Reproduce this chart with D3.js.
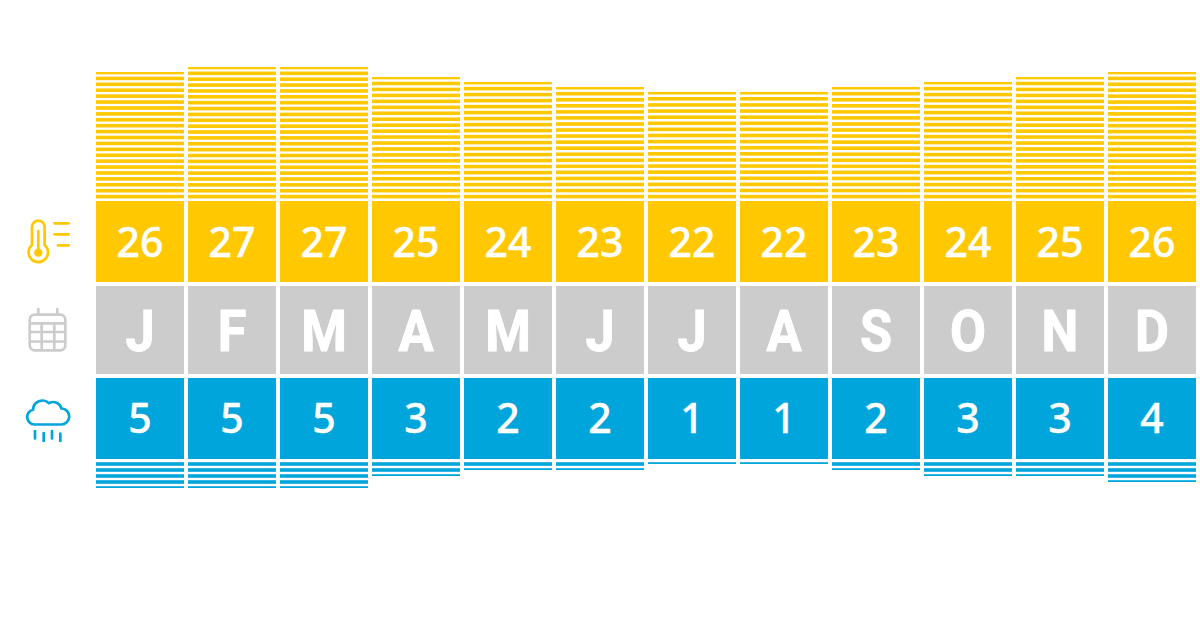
<!DOCTYPE html>
<html><head><meta charset="utf-8">
<script src="https://cdn.jsdelivr.net/npm/d3@7"></script>
<style>html,body{margin:0;padding:0;background:#fff}svg{display:block}text{font-family:"Noto Sans",sans-serif;fill:#fff;text-anchor:middle}</style>
</head><body><div id="c"></div>
<script>
const months=["J","F","M","A","M","J","J","A","S","O","N","D"];
const temperature=[26,27,27,25,24,23,22,22,23,24,25,26];
const rainfall=[5,5,5,3,2,2,1,1,2,3,3,4];
const YELLOW="#ffc800",GREY="#cccccc",BLUE="#00a5dc";
const svg=d3.select("#c").append("svg").attr("width",1200).attr("height",620);
const x=d3.scaleBand().domain(d3.range(12)).range([96,1196]).paddingInner(4/92).paddingOuter(0);
const yT=d3.scaleLinear().domain([0,27]).range([202,67]);
const yR=d3.scaleLinear().domain([0,5]).range([458,488]);
const col=svg.selectAll("g.col").data(months).join("g").attr("class","col");
const W=x.bandwidth();
col.append("rect").attr("x",(d,i)=>x(i)).attr("y",201).attr("width",W).attr("height",81).attr("fill",YELLOW);
col.append("rect").attr("x",(d,i)=>x(i)).attr("y",286).attr("width",W).attr("height",88).attr("fill",GREY);
col.append("rect").attr("x",(d,i)=>x(i)).attr("y",378).attr("width",W).attr("height",81).attr("fill",BLUE);
// temperature stripes, anchored at the box, clipped at the value
temperature.forEach((v,i)=>{
  const top=yT(v),n=v-4,p=(yT(0)-top)/n;
  d3.range(0,n+1).forEach(k=>{
    const yb=198.4-k*p, yt=Math.max(top,yb-3.6);
    if(yb>top) svg.append("rect").attr("x",x(i)).attr("y",yt).attr("width",W).attr("height",yb-yt).attr("fill",YELLOW);
  });
});
rainfall.forEach((v,i)=>{
  const bot=yR(v);
  d3.range(0,v*2).forEach(k=>{
    const yt=462.2+k*6, yb=Math.min(bot,yt+3.6);
    if(yt<bot) svg.append("rect").attr("x",x(i)).attr("y",yt).attr("width",W).attr("height",yb-yt).attr("fill",BLUE);
  });
});
const cx=i=>x(i)+W/2;
col.append("text").attr("x",(d,i)=>cx(i)).attr("y",257).attr("font-size",41).attr("font-weight",500).attr("stroke","#fff").attr("stroke-width",0.4).text((d,i)=>temperature[i]);
col.append("text").attr("transform",(d,i)=>`translate(${cx(i)},351) scale(.9,1)`).style("font-family","Roboto").attr("font-size",58).attr("font-weight",700).attr("stroke","#fff").attr("stroke-width",1).attr("stroke-linejoin","round").text(d=>d);
col.append("text").attr("x",(d,i)=>cx(i)).attr("y",433).attr("font-size",41).attr("font-weight",500).attr("stroke","#fff").attr("stroke-width",0.4).text((d,i)=>rainfall[i]);
// icons
const th=svg.append("g").attr("fill","none").attr("stroke",YELLOW).attr("stroke-width",2.7).attr("stroke-linecap","round");
th.append("path").attr("d","M32 245 V226.9 a6.3 6.3 0 0 1 12.6 0 V245 a9.7 9.7 0 1 1 -12.6 0 Z");
th.append("path").attr("d","M38.3 231 V250");
th.append("circle").attr("cx",38.3).attr("cy",252.7).attr("r",2.8).attr("fill",YELLOW);
th.append("path").attr("d","M54.6 223.3 H68.7 M54.6 234.3 H68.7 M58 245.3 H68.7");
const cal=svg.append("g").attr("fill","none").attr("stroke",GREY).attr("stroke-width",2.7);
cal.append("rect").attr("x",29.7).attr("y",314.7).attr("width",35.6).attr("height",35.6).attr("rx",5);
cal.append("path").attr("d","M38.3 308 V314 M57.3 308 V314 M29.7 323.3 H65.3 M29.7 332 H65.3 M29.7 341.5 H65.3 M41.7 323.3 V350 M54.3 323.3 V350");
const cl=svg.append("g").attr("fill","none").attr("stroke",BLUE).attr("stroke-width",2.7).attr("stroke-linecap","round");
cl.append("path").attr("d","M34.5 424.5 a7.5 7.5 0 0 1 -1.5 -14.8 a9.5 9.5 0 0 1 16 -6.5 a8.5 8.5 0 0 1 12.5 5.3 a7.7 7.7 0 0 1 -0.5 16 Z");
cl.append("path").attr("d","M35 431 V438.5 M43.7 433 V441 M52 431 V438.5 M60.3 433.5 V441");
</script></body></html>
